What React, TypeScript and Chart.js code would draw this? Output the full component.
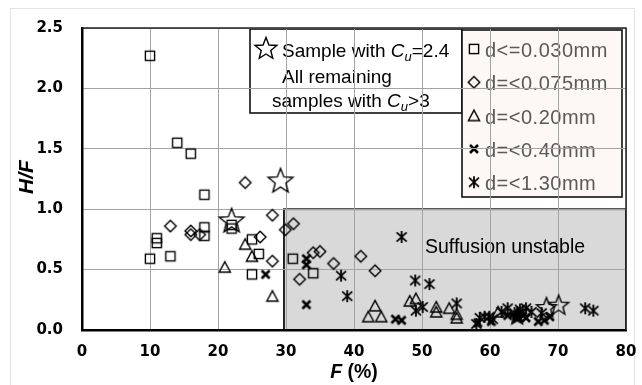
import React, { useEffect, useRef } from 'react';
import { Chart, registerables } from 'chart.js';
Chart.register(...registerables);

// ---------- data ----------
const sqF = [10, 14, 16, 18, 10, 11, 11, 13, 18, 18, 22, 22, 25, 26, 25, 31, 34];
const sqHF = [2.27, 1.55, 1.46, 1.12, 0.59, 0.76, 0.72, 0.61, 0.85, 0.78, 0.87, 0.84, 0.75, 0.63, 0.46, 0.59, 0.47];

const diF = [13, 16, 16, 17.3, 24, 26.2, 28, 28, 29.9, 31.1, 32, 34, 35, 37, 41, 43.1];
const diHF = [0.86, 0.82, 0.79, 0.79, 1.22, 0.77, 0.95, 0.57, 0.83, 0.88, 0.42, 0.64, 0.65, 0.55, 0.61, 0.49];

const trF = [21, 24, 25, 28, 43.1, 42.1, 44, 48.2, 49.1, 52.1, 52.1, 54, 55.1, 55.1, 61.2];
const trHF = [0.52, 0.71, 0.61, 0.28, 0.2, 0.11, 0.11, 0.24, 0.26, 0.19, 0.15, 0.18, 0.13, 0.1, 0.15];

const crF = [27, 33, 33, 33, 46.1, 47, 58.2, 60.2, 62.6, 65.3, 67.1, 68, 68.8];
const crHF = [0.46, 0.59, 0.54, 0.21, 0.09, 0.08, 0.06, 0.07, 0.12, 0.1, 0.07, 0.08, 0.11];

const asF = [47, 38.1, 39, 49, 51.1, 49.1, 50.1, 55.1, 58, 58.5, 59.2, 59.9, 60.4, 61.7, 62.6, 63.6, 64.4, 64.8, 65.3, 66.1, 67.6, 74, 75.2];
const asHF = [0.77, 0.45, 0.28, 0.41, 0.38, 0.16, 0.19, 0.22, 0.05, 0.1, 0.11, 0.11, 0.09, 0.15, 0.18, 0.14, 0.17, 0.15, 0.18, 0.15, 0.14, 0.18, 0.16];

const stF = [22, 29.2, 68.3, 70.1, 64];
const stHF = [0.91, 1.24, 0.19, 0.21, 0.12];

const seriesLabels = ['d<=0.030mm', 'd=<0.075mm', 'd=<0.20mm', 'd=<0.40mm', 'd=<1.30mm'];
const starLabel = 'Sample with Cu=2.4';

const X_MIN = 0, X_MAX = 80, X_STEP = 10;
const Y_MIN = 0, Y_MAX = 2.5, Y_STEP = 0.5;
const SHADE_F_MIN = 29.7;
const SHADE_HF_MAX = 1.0;

const ARIAL = '"Liberation Sans", Arial, sans-serif';
const TICKFONT = '"DejaVu Sans", sans-serif';

function mk(size: number, draw: (c: CanvasRenderingContext2D, m: number) => void) {
  const cv = document.createElement('canvas');
  cv.width = size; cv.height = size;
  const c = cv.getContext('2d')!;
  c.strokeStyle = '#000'; c.fillStyle = '#000';
  draw(c, size / 2);
  return cv;
}

function starPath(c: CanvasRenderingContext2D, cx: number, cy: number, R: number, r: number) {
  c.beginPath();
  for (let i = 0; i < 10; i++) {
    const rr = i % 2 === 0 ? R : r;
    const a = -Math.PI / 2 + (i * Math.PI) / 5;
    c.lineTo(cx + rr * Math.cos(a), cy + rr * Math.sin(a));
  }
  c.closePath();
}

function makeMarkers() {
  const square = mk(14, (c, m) => { c.lineWidth = 1.4; c.strokeRect(m - 4.6, m - 4.6, 9.2, 9.2); });
  const diamond = mk(16, (c, m) => {
    c.lineWidth = 1.4; c.beginPath();
    c.moveTo(m, m - 5.8); c.lineTo(m + 5.8, m); c.lineTo(m, m + 5.8); c.lineTo(m - 5.8, m); c.closePath(); c.stroke();
  });
  const triangle = mk(16, (c, m) => {
    c.lineWidth = 1.4; c.beginPath();
    c.moveTo(m, m - 5.4); c.lineTo(m + 5.6, m + 5); c.lineTo(m - 5.6, m + 5); c.closePath(); c.stroke();
  });
  const cross = mk(14, (c, m) => {
    c.lineWidth = 2.6; c.beginPath();
    c.moveTo(m - 4, m - 4); c.lineTo(m + 4, m + 4); c.moveTo(m - 4, m + 4); c.lineTo(m + 4, m - 4); c.stroke();
  });
  const aster = mk(16, (c, m) => {
    c.lineWidth = 1.8; c.beginPath();
    c.moveTo(m, m - 6); c.lineTo(m, m + 6);
    c.moveTo(m - 5, m - 4.6); c.lineTo(m + 5, m + 4.6);
    c.moveTo(m - 5, m + 4.6); c.lineTo(m + 5, m - 4.6); c.stroke();
  });
  const starBig = mk(32, (c, m) => { c.lineWidth = 1.4; starPath(c, m, m + 1.2, 13, 5.6); c.stroke(); });
  const starSmall = mk(26, (c, m) => { c.lineWidth = 1.4; starPath(c, m, m + 1, 10.5, 4.5); c.stroke(); });
  const starFill = mk(24, (c, m) => { c.lineWidth = 1.2; starPath(c, m, m + 0.9, 9.5, 4.3); c.fill(); c.stroke(); });
  const starLegend = mk(28, (c, m) => { c.lineWidth = 1.4; starPath(c, m, m + 1, 11.5, 5); c.stroke(); });
  return { square, diamond, triangle, cross, aster, starBig, starSmall, starFill, starLegend };
}

function pts(xs: number[], ys: number[]) {
  return xs.map((v, i) => ({ x: v, y: ys[i] }));
}

export default function App() {
  const ref = useRef<HTMLCanvasElement>(null);

  useEffect(() => {
    const M = makeMarkers();
    const legendImgs = [M.square, M.diamond, M.triangle, M.cross, M.aster];

    const decor = {
      id: 'decor',
      beforeDraw(chart: any) {
        const { ctx, chartArea: ca, scales } = chart;
        const x = scales.x, y = scales.y;
        ctx.save();
        // figure frame
        ctx.strokeStyle = '#e2e2e2'; ctx.lineWidth = 1;
        ctx.strokeRect(10.5, 8.5, 624, 420);
        // shaded region
        const sx0 = x.getPixelForValue(SHADE_F_MIN);
        const sy0 = y.getPixelForValue(SHADE_HF_MAX);
        ctx.fillStyle = '#d9d9d9';
        ctx.fillRect(sx0, sy0, ca.right - sx0, ca.bottom - sy0);
        ctx.strokeStyle = '#111'; ctx.lineWidth = 1.8;
        ctx.strokeRect(sx0, sy0, ca.right - sx0, ca.bottom - sy0);
        ctx.fillStyle = '#000';
        ctx.font = `19.5px ${ARIAL}`;
        ctx.textBaseline = 'alphabetic'; ctx.textAlign = 'left';
        ctx.fillText('Suffusion unstable', 425, 253);

        // annotation box
        ctx.fillStyle = '#fff';
        ctx.fillRect(250, 29, 212, 84);
        ctx.strokeStyle = '#111'; ctx.lineWidth = 1.6;
        ctx.strokeRect(250, 29, 212, 84);
        ctx.drawImage(M.starLegend, 266 - 14, 48 - 14);
        ctx.fillStyle = '#000';
        const drawCu = (pre: string, post: string, x0: number, base: number) => {
          ctx.font = `19px ${ARIAL}`;
          ctx.fillText(pre, x0, base);
          let cx = x0 + ctx.measureText(pre).width;
          ctx.font = `italic 19px ${ARIAL}`;
          ctx.fillText('C', cx, base);
          cx += ctx.measureText('C').width;
          ctx.font = `italic 13px ${ARIAL}`;
          ctx.fillText('u', cx, base + 4);
          cx += ctx.measureText('u').width;
          ctx.font = `19px ${ARIAL}`;
          ctx.fillText(post, cx, base);
        };
        drawCu('Sample with ', '=2.4', 282, 57);
        ctx.font = `19px ${ARIAL}`;
        ctx.fillText('All remaining', 282, 83);
        drawCu('samples with ', '>3', 272, 107);

        // legend box
        ctx.fillStyle = '#fdf8f5';
        ctx.fillRect(462, 30, 160, 167);
        ctx.strokeStyle = '#111'; ctx.lineWidth = 1.6;
        ctx.strokeRect(462, 30, 160, 167);
        ctx.fillStyle = '#595959';
        ctx.font = `20px ${ARIAL}`;
        (ctx as any).letterSpacing = '0.5px';
        seriesLabels.forEach((lab, i) => {
          const base = 57 + i * 33.3;
          const img = legendImgs[i];
          ctx.drawImage(img, 474 - img.width / 2, base - 8 - img.height / 2);
          ctx.fillText(lab, 485, base);
        });
        (ctx as any).letterSpacing = '0px';
        ctx.restore();
      },
      afterDraw(chart: any) {
        const { ctx, chartArea: ca } = chart;
        ctx.save();
        ctx.strokeStyle = '#222'; ctx.lineWidth = 1.5;
        ctx.beginPath();
        ctx.moveTo(ca.left, ca.top); ctx.lineTo(ca.right, ca.top); ctx.lineTo(ca.right, ca.bottom);
        ctx.stroke();
        // axis titles
        ctx.fillStyle = '#000';
        ctx.textBaseline = 'middle';
        ctx.font = `bold italic 19.5px ${ARIAL}`;
        const wF = ctx.measureText('F').width;
        ctx.font = `bold 19.5px ${ARIAL}`;
        const wR = ctx.measureText(' (%)').width;
        const cx = (ca.left + ca.right) / 2;
        const x0 = cx - (wF + wR) / 2;
        ctx.textAlign = 'left';
        ctx.font = `bold italic 19.5px ${ARIAL}`;
        ctx.fillText('F', x0, 373);
        ctx.font = `bold 19.5px ${ARIAL}`;
        ctx.fillText(' (%)', x0 + wF, 373);
        ctx.translate(27, (ca.top + ca.bottom) / 2 - 2);
        ctx.rotate(-Math.PI / 2);
        ctx.textAlign = 'center';
        ctx.font = `bold italic 21px ${ARIAL}`;
        ctx.fillText('H/F', 0, 0);
        ctx.restore();
      },
    };

    const mkSet = (label: string, xs: number[], ys: number[], style: any) => ({
      label,
      data: pts(xs, ys),
      pointStyle: style,
      pointRadius: 5,
      pointHoverRadius: 5,
      backgroundColor: 'transparent',
      borderColor: '#000',
      showLine: false,
    });

    const chart = new Chart(ref.current!, {
      type: 'scatter',
      data: {
        datasets: [
          mkSet(seriesLabels[0], sqF, sqHF, M.square),
          mkSet(seriesLabels[1], diF, diHF, M.diamond),
          mkSet(seriesLabels[2], trF, trHF, M.triangle),
          mkSet(seriesLabels[3], crF, crHF, M.cross),
          mkSet(seriesLabels[4], asF, asHF, M.aster),
          mkSet(starLabel, stF, stHF, [M.starBig, M.starBig, M.starSmall, M.starSmall, M.starFill]),
        ],
      },
      plugins: [decor],
      options: {
        animation: false,
        responsive: true,
        maintainAspectRatio: false,
        clip: false as any,
        layout: { padding: { left: 0, right: 16, top: 28, bottom: 0 } },
        plugins: { legend: { display: false }, tooltip: { enabled: false } },
        events: [],
        scales: {
          x: {
            type: 'linear',
            min: X_MIN,
            max: X_MAX,
            afterFit: (s: any) => { s.height = 55; s.paddingLeft = 0; s.paddingRight = 0; },
            ticks: {
              stepSize: X_STEP,
              color: '#000',
              padding: 13,
              font: { family: TICKFONT, weight: 'bold', size: 15 },
            },
            grid: { color: '#a3a3a3', lineWidth: 1, drawTicks: false },
            border: { color: '#000', width: 2.5 },
          },
          y: {
            type: 'linear',
            min: Y_MIN,
            max: Y_MAX,
            afterFit: (s: any) => { s.width = 82; s.paddingTop = 0; s.paddingBottom = 0; },
            ticks: {
              stepSize: Y_STEP,
              color: '#000',
              padding: 19,
              font: { family: TICKFONT, weight: 'bold', size: 15 },
              callback: (v: any) => Number(v).toFixed(1),
            },
            grid: { color: '#a3a3a3', lineWidth: 1, drawTicks: false },
            border: { color: '#000', width: 2.5 },
          },
        },
      } as any,
    });
    return () => chart.destroy();
  }, []);

  return (
    <div style={{ position: 'absolute', left: 0, top: 0, width: 642, height: 385, overflow: 'hidden' }}>
      <canvas ref={ref} style={{ display: 'block' }} />
    </div>
  );
}
